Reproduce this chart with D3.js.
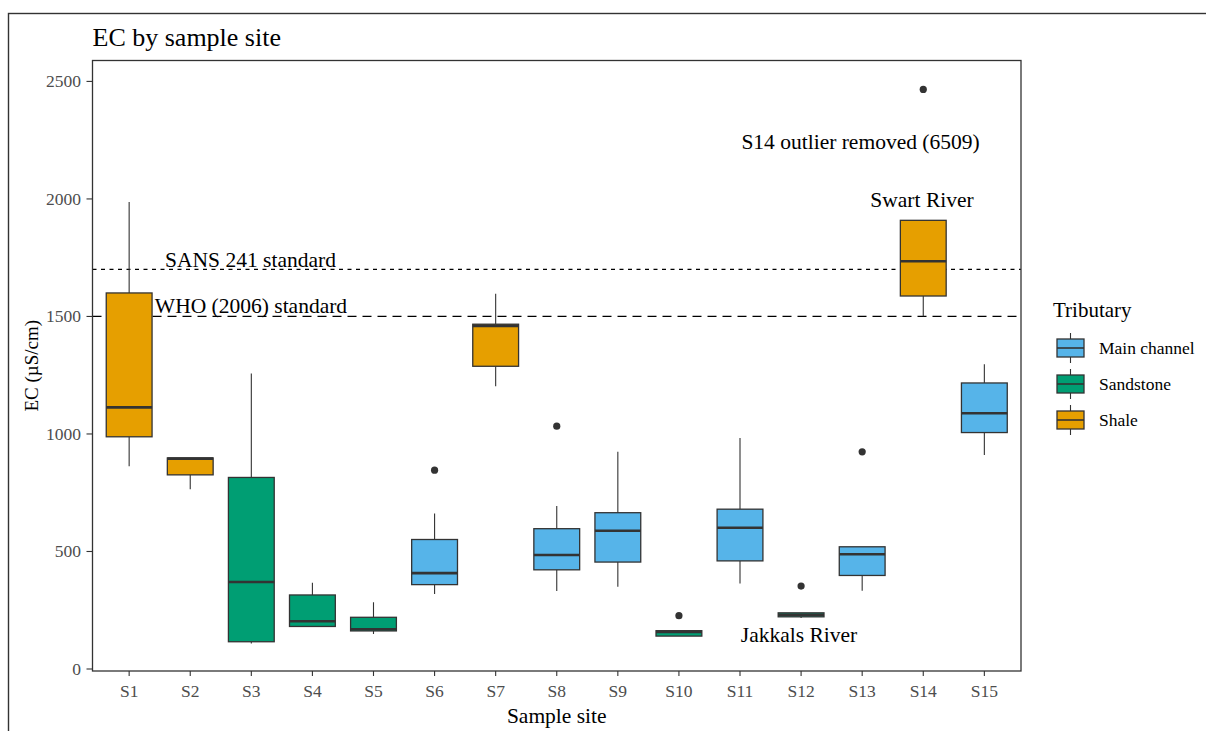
<!DOCTYPE html>
<html>
<head>
<meta charset="utf-8">
<script src="https://cdn.jsdelivr.net/npm/d3@7"></script>
<style>
  html, body { margin: 0; padding: 0; background: #fff; }
  svg { display: block; font-family: "Liberation Serif", "DejaVu Serif", serif; }
</style>
</head>
<body>
<svg id="chart" width="1206" height="731"></svg>
<script>
// Sample sites and their tributary grouping
const sites = ["S1","S2","S3","S4","S5","S6","S7","S8","S9","S10","S11","S12","S13","S14","S15"];
const tributary = ["Shale","Shale","Sandstone","Sandstone","Sandstone","Main channel","Shale","Main channel","Main channel","Sandstone","Main channel","Sandstone","Main channel","Shale","Main channel"];

// Box statistics per site (EC, µS/cm)
const whiskerLow  = [863, 765, 109, 181, 149, 319, 1203, 332, 350, 140, 364, 217, 333, 1501, 910];
const q1          = [988, 826, 116, 181, 162, 359, 1288, 422, 455, 140, 460, 222, 398, 1587, 1006];
const median      = [1113, 895, 370, 203, 169, 408, 1460, 485, 588, 158, 601, 231, 488, 1735, 1088];
const q3          = [1600, 898, 815, 315, 220, 551, 1467, 597, 665, 163, 680, 239, 520, 1909, 1217];
const whiskerHigh = [1987, 898, 1257, 367, 284, 662, 1597, 693, 924, 163, 983, 239, 520, 1909, 1297];
const outliers    = [[], [], [], [], [], [846], [], [1033], [], [227], [], [353], [924], [2466], []];

// Guideline standards
const standards = [
  { label: "SANS 241 standard",  value: 1700, dash: "4,4.5" },
  { label: "WHO (2006) standard", value: 1500, dash: "9,6" }
];

// Axis ticks and legend entries
const yTicks = [0, 500, 1000, 1500, 2000, 2500];
const groups = ["Main channel", "Sandstone", "Shale"];
const groupColors = ["#56B4E9", "#009E73", "#E69F00"];

const svg = d3.select("#chart");
const W = 1206, H = 731;
const panel = { left: 92.5, right: 1021, top: 60.5, bottom: 671 };

// outer frame
svg.append("rect")
  .attr("x", 8.5).attr("y", 13.5)
  .attr("width", W + 10).attr("height", H + 10)
  .attr("fill", "none").attr("stroke", "#333").attr("stroke-width", 1.4);

const color = d3.scaleOrdinal().domain(groups).range(groupColors);

// discrete axis with 0.6 unit expansion on each side
const x = d3.scalePoint()
  .domain(sites)
  .range([panel.left, panel.right])
  .padding(0.6);
const step = x.step();
const boxW = step * 0.75;

const y = d3.scaleLinear().domain([-8.5, 2589]).range([panel.bottom, panel.top]);

const g = svg.append("g");

// standard lines
standards.forEach(s => {
  g.append("line")
    .attr("x1", panel.left).attr("x2", panel.right)
    .attr("y1", y(s.value)).attr("y2", y(s.value))
    .attr("stroke", "#000").attr("stroke-width", 1.2)
    .attr("stroke-dasharray", s.dash);
});

// boxplots
sites.forEach((s, i) => {
  const cx = x(s);
  const fill = color(tributary[i]);
  const bg = g.append("g");
  // whiskers
  bg.append("line").attr("x1", cx).attr("x2", cx)
    .attr("y1", y(q3[i])).attr("y2", y(whiskerHigh[i]))
    .attr("stroke", "#333").attr("stroke-width", 1.1);
  bg.append("line").attr("x1", cx).attr("x2", cx)
    .attr("y1", y(q1[i])).attr("y2", y(whiskerLow[i]))
    .attr("stroke", "#333").attr("stroke-width", 1.1);
  // box
  bg.append("rect")
    .attr("x", cx - boxW / 2).attr("width", boxW)
    .attr("y", y(q3[i])).attr("height", Math.max(0, y(q1[i]) - y(q3[i])))
    .attr("fill", fill).attr("stroke", "#333").attr("stroke-width", 1.3);
  // median
  bg.append("line")
    .attr("x1", cx - boxW / 2).attr("x2", cx + boxW / 2)
    .attr("y1", y(median[i])).attr("y2", y(median[i]))
    .attr("stroke", "#333").attr("stroke-width", 2.6);
  // outliers
  outliers[i].forEach(v => {
    bg.append("circle").attr("cx", cx).attr("cy", y(v)).attr("r", 3.6).attr("fill", "#333");
  });
});

// panel border
g.append("rect")
  .attr("x", panel.left).attr("y", panel.top)
  .attr("width", panel.right - panel.left).attr("height", panel.bottom - panel.top)
  .attr("fill", "none").attr("stroke", "#333").attr("stroke-width", 1.3);

// y axis
const yAxis = svg.append("g");
yTicks.forEach(t => {
  yAxis.append("line").attr("x1", panel.left - 6).attr("x2", panel.left)
    .attr("y1", y(t)).attr("y2", y(t)).attr("stroke", "#333").attr("stroke-width", 1.1);
  yAxis.append("text").attr("x", panel.left - 11.5).attr("y", y(t))
    .attr("text-anchor", "end").attr("dominant-baseline", "central")
    .attr("fill", "#4d4d4d").attr("font-size", 17.5).text(t);
});

// x axis
const xAxis = svg.append("g");
sites.forEach(s => {
  xAxis.append("line").attr("x1", x(s)).attr("x2", x(s))
    .attr("y1", panel.bottom).attr("y2", panel.bottom + 5)
    .attr("stroke", "#333").attr("stroke-width", 1.1);
  xAxis.append("text").attr("x", x(s)).attr("y", panel.bottom + 20)
    .attr("text-anchor", "middle").attr("dominant-baseline", "central")
    .attr("fill", "#4d4d4d").attr("font-size", 17.5).text(s);
});

// axis titles
svg.append("text").attr("x", (panel.left + panel.right) / 2).attr("y", 716)
  .attr("text-anchor", "middle").attr("dominant-baseline", "central")
  .attr("font-size", 21.5).attr("fill", "#000").text("Sample site");
svg.append("text")
  .attr("transform", `translate(31,${(panel.top + panel.bottom) / 2}) rotate(-90)`)
  .attr("text-anchor", "middle").attr("dominant-baseline", "central")
  .attr("font-size", 19).attr("fill", "#000").text("EC (µS/cm)");

// title
svg.append("text").attr("x", panel.left).attr("y", 37)
  .attr("dominant-baseline", "central")
  .attr("font-size", 26).attr("fill", "#000").text("EC by sample site");

// annotations
const notes = [
  { text: "SANS 241 standard", x: 250.5, y: 260 },
  { text: "WHO (2006) standard", x: 251, y: 306 },
  { text: "S14 outlier removed (6509)", x: 860.5, y: 142 },
  { text: "Swart River", x: 922, y: 200 },
  { text: "Jakkals River", x: 799, y: 635 }
];
notes.forEach(n => {
  svg.append("text").attr("x", n.x).attr("y", n.y)
    .attr("text-anchor", "middle").attr("dominant-baseline", "central")
    .attr("font-size", 21.5).attr("fill", "#000").text(n.text);
});

// legend
const legend = svg.append("g");
legend.append("text").attr("x", 1053).attr("y", 310)
  .attr("dominant-baseline", "central").attr("font-size", 21).attr("fill", "#000").text("Tributary");
groups.forEach((grp, i) => {
  const cy = 348 + i * 36;
  const lx = 1057, lw = 27;
  const cxk = lx + lw / 2;
  legend.append("line").attr("x1", cxk).attr("x2", cxk).attr("y1", cy - 15).attr("y2", cy + 15)
    .attr("stroke", "#333").attr("stroke-width", 1.1);
  legend.append("rect").attr("x", lx).attr("y", cy - 9).attr("width", lw).attr("height", 18)
    .attr("fill", color(grp)).attr("stroke", "#333").attr("stroke-width", 1.3);
  legend.append("line").attr("x1", lx).attr("x2", lx + lw).attr("y1", cy).attr("y2", cy)
    .attr("stroke", "#333").attr("stroke-width", 1.6);
  legend.append("text").attr("x", 1099).attr("y", cy)
    .attr("dominant-baseline", "central").attr("font-size", 17.5).attr("fill", "#000").text(grp);
});
</script>
</body>
</html>
